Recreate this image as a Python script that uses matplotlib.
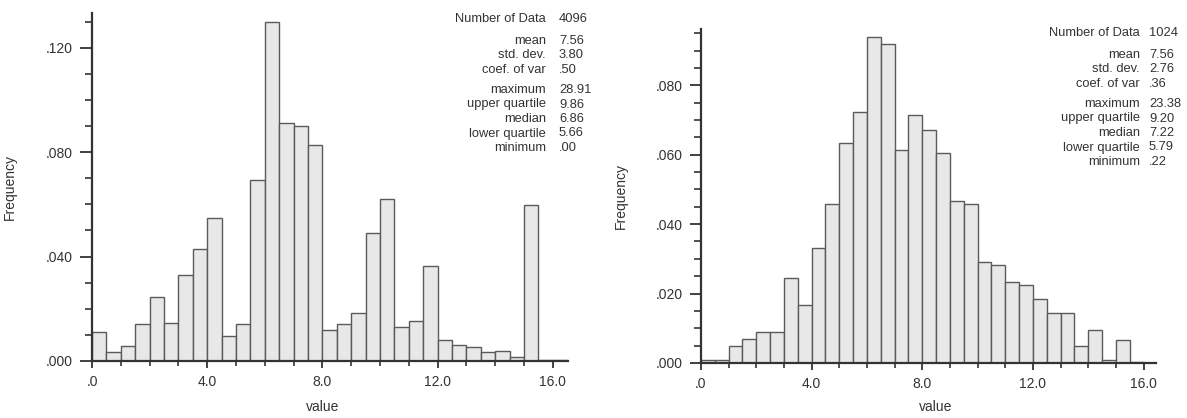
# %% Import libraries required
import numpy as np
from matplotlib import pyplot as plt
from matplotlib.ticker import MultipleLocator, FixedLocator

plt.rcParams['font.family'] = ['Liberation Sans', 'DejaVu Sans']

# %% Histogram data: 0.5 wide classes starting at 0
bin_width = 0.5
freq_a = [0.0110, 0.0035, 0.0058, 0.0142, 0.0244, 0.0147, 0.0331, 0.0429,
          0.0549, 0.0095, 0.0142, 0.0695, 0.1299, 0.0910, 0.0901, 0.0829,
          0.0120, 0.0142, 0.0184, 0.0491, 0.0620, 0.0132, 0.0152, 0.0362,
          0.0081, 0.0060, 0.0054, 0.0035, 0.0040, 0.0014, 0.0599, 0.0003,
          0.0003]
freq_b = [0.0010, 0.0010, 0.0049, 0.0068, 0.0088, 0.0088, 0.0246, 0.0166,
          0.0332, 0.0459, 0.0635, 0.0723, 0.0938, 0.0919, 0.0613, 0.0713,
          0.0671, 0.0604, 0.0468, 0.0458, 0.0292, 0.0283, 0.0234, 0.0225,
          0.0183, 0.0145, 0.0145, 0.0048, 0.0094, 0.0010, 0.0067, 0.0003]

stat_names = ['Number of Data', 'mean', 'std. dev.', 'coef. of var',
              'maximum', 'upper quartile', 'median', 'lower quartile',
              'minimum']
stats_a = ['4096', '7.56', '3.80', '.50', '28.91', '9.86', '6.86', '5.66', '.00']
stats_b = ['1024', '7.56', '2.76', '.36', '23.38', '9.20', '7.22', '5.79', '.22']

x_ticks = [0, 4, 8, 12, 16]
x_ticklabels = ['.0', '4.0', '8.0', '12.0', '16.0']
y_ticks_a = [0, 0.04, 0.08, 0.12]
y_ticklabels_a = ['.000', '.040', '.080', '.120']
y_ticks_b = [0, 0.02, 0.04, 0.06, 0.08]
y_ticklabels_b = ['.000', '.020', '.040', '.060', '.080']

W, H = 1187, 418
ink = '#333333'
fig = plt.figure(figsize=(W / 100, H / 100), dpi=100)


def px_axes(x0, x1, y_top, y_bot):
    return fig.add_axes([x0 / W, 1 - y_bot / H, (x1 - x0) / W, (y_bot - y_top) / H])


def draw_hist(ax, freqs, xmax, ymax, yticks, yticklabels, yminor, ymaj_len):
    edges = np.arange(len(freqs)) * bin_width
    ax.bar(edges, freqs, width=bin_width, align='edge', color='#e8e8e8',
           edgecolor='#5a5a5a', linewidth=1.0, zorder=2)
    ax.set_xlim(0, xmax)
    ax.set_ylim(0, ymax)
    for s in ['top', 'right']:
        ax.spines[s].set_visible(False)
    for s in ['left', 'bottom']:
        ax.spines[s].set_color(ink)
        ax.spines[s].set_linewidth(1.6)
    ax.xaxis.set_major_locator(FixedLocator(x_ticks))
    ax.set_xticklabels(x_ticklabels)
    ax.xaxis.set_minor_locator(MultipleLocator(1.0))
    ax.yaxis.set_major_locator(FixedLocator(yticks))
    ax.set_yticklabels(yticklabels)
    ax.yaxis.set_minor_locator(MultipleLocator(yminor))
    ax.tick_params(axis='x', which='major', length=5, width=1.3, color=ink,
                   labelsize=10, labelcolor=ink, pad=5)
    ax.tick_params(axis='x', which='minor', length=3.5, width=1.2, color=ink)
    ax.tick_params(axis='y', which='major', length=ymaj_len, width=1.3, color=ink,
                   labelsize=10, labelcolor=ink, pad=5)
    ax.tick_params(axis='y', which='minor', length=5, width=1.2, color=ink)
    ax.set_ylabel('Frequency', fontsize=10, color=ink)
    ax.set_xlabel('value', fontsize=10, color=ink, va='center')


def draw_stats(values, x_lab, x_val, y_rows):
    for name, val, y in zip(stat_names, values, y_rows):
        fig.text(x_lab / W, 1 - y / H, name, ha='right', va='center',
                 fontsize=9.3, color=ink)
        fig.text(x_val / W, 1 - y / H, val, ha='left', va='center',
                 fontsize=9.3, color=ink)


# %% Left histogram
ax1 = px_axes(92, 568, 13, 361)
draw_hist(ax1, freq_a, 16.53, 0.1333, y_ticks_a, y_ticklabels_a, 0.01, 9)
ax1.yaxis.set_label_coords(-0.157, 0.5)
ax1.xaxis.set_label_coords(0.485, -0.131)
draw_stats(stats_a, 546, 559, [19, 41, 55.5, 70, 90, 104.5, 119, 133.5, 148])

# %% Right histogram
ax2 = px_axes(701, 1156, 29, 363)
draw_hist(ax2, freq_b, 16.45, 0.0962, y_ticks_b, y_ticklabels_b, 0.005, 8)
ax2.yaxis.set_label_coords(-0.160, 0.5)
ax2.xaxis.set_label_coords(0.515, -0.131)
draw_stats(stats_b, 1140, 1149, [33, 55, 69.5, 84, 104, 118.5, 133, 147.5, 162])

plt.savefig('out.png', dpi=100)
